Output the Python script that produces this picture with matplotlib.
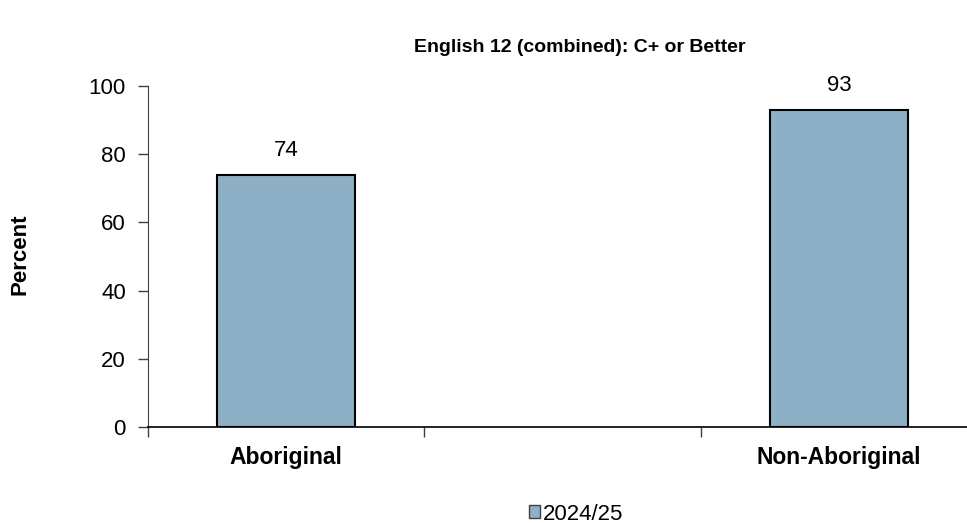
import matplotlib
matplotlib.use("Agg")
import matplotlib.pyplot as plt
from matplotlib.patches import Patch

plt.rcParams['font.family'] = ['Liberation Sans', 'DejaVu Sans']

categories = ["Aboriginal", "", "Non-Aboriginal"]
values = [74, None, 93]
series_name = "2024/25"
title = "English 12 (combined): C+ or Better"
ylabel = "Percent"
yticks = [0, 20, 40, 60, 80, 100]

W, H = 967, 523
fig = plt.figure(figsize=(W / 100, H / 100), dpi=100)
ax = fig.add_axes([148 / W, 1 - 427 / H, (977 - 148) / W, (427 - 86) / H])

color = "#8EB0C6"
xs = [i for i, v in enumerate(values) if v is not None]
vs = [v for v in values if v is not None]
ax.bar(xs, vs, width=0.5, color=color, edgecolor="black", linewidth=1.5, zorder=3)
for x, v in zip(xs, vs):
    ax.text(x, v + 4, f"{v}", ha="center", va="bottom", fontsize=16)

ax.set_xlim(-0.5, len(categories) - 0.5)
ax.set_ylim(0, 100)
ax.set_yticks(yticks)
ax.tick_params(axis="y", labelsize=16, length=7, width=1, color="#404040", pad=9)
ax.set_xticks(range(len(categories)))
ax.set_xticklabels(categories, fontsize=16.5, fontweight="bold")
ax.tick_params(axis="x", which="major", length=0, pad=14)
ax.set_xticks([i - 0.5 for i in range(len(categories) + 1)], minor=True)
ax.tick_params(axis="x", which="minor", length=7, width=1, color="#404040")

for s in ["top", "right"]:
    ax.spines[s].set_visible(False)
ax.spines["left"].set_color("#404040")
ax.spines["bottom"].set_color("black")
ax.spines["bottom"].set_linewidth(1.2)

fig.text(580 / W, 1 - 48 / H, title, ha="center", va="center", fontsize=14, fontweight="bold")
fig.text(20 / W, 1 - 254 / H, ylabel, ha="center", va="center", rotation=90, fontsize=16, fontweight="bold")

handle = Patch(facecolor=color, edgecolor="#404040", linewidth=1)
fig.legend([handle], [series_name], loc="center", bbox_to_anchor=(576 / W, 1 - 514 / H),
           frameon=False, fontsize=16, handlelength=0.5, handleheight=0.5, handletextpad=0.15,
           borderpad=0, borderaxespad=0)

fig.savefig("out.png", dpi=100)
